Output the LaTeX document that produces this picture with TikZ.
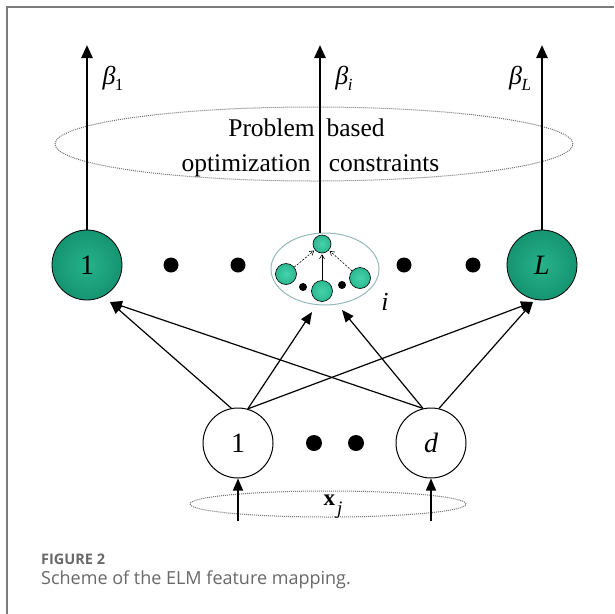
\documentclass[tikz,border=0pt]{standalone}
\usepackage{fontspec}
\setmainfont{Liberation Serif}
\newfontfamily\capfont{Open Sans}
\usetikzlibrary{arrows.meta,calc,shapes.geometric}

\definecolor{frameline}{RGB}{125,125,125}
\definecolor{capgray}{RGB}{105,105,105}
\definecolor{clusterline}{RGB}{150,185,185}
\definecolor{ringgray}{RGB}{115,115,115}
\definecolor{tealA}{RGB}{38,178,138}
\definecolor{tealB}{RGB}{18,142,108}
\definecolor{tealC}{RGB}{4,88,66}
\definecolor{tealD}{RGB}{70,210,170}

% teal sphere look for the hidden neurons
\pgfdeclareradialshading{tealball}{\pgfpoint{0bp}{0bp}}{%
  color(0bp)=(tealA); color(30bp)=(tealB); color(46bp)=(tealC); color(50bp)=(tealC)}
\pgfdeclareradialshading{tealsmall}{\pgfpoint{0bp}{0bp}}{%
  color(0bp)=(tealD); color(30bp)=(tealA); color(46bp)=(tealB); color(50bp)=(tealC)}

\newcommand{\betalabel}[1]{{\itshape β}\kern-0.5pt\raisebox{-6pt}{\fontsize{17}{17}\selectfont #1}}

\begin{document}
\begin{tikzpicture}[x=1pt,y=-1pt,
  bigball/.style={circle, draw=black, line width=0.8pt, minimum size=70pt,
    inner sep=0pt, shading=tealball, font=\fontsize{28}{28}\selectfont},
  smallball/.style={circle, draw=black, line width=0.6pt, minimum size=#1,
    inner sep=0pt, shading=tealsmall},
  inputnode/.style={circle, draw=black, line width=1pt, minimum size=70pt,
    inner sep=0pt, fill=white, font=\fontsize{28}{28}\selectfont},
  dotmark/.style={circle, fill=black, minimum size=#1, inner sep=0pt},
  outarrow/.style={line width=2.6pt, -{Triangle[length=13pt,width=11pt]}},
  inarrow/.style={line width=1.2pt, -{Triangle[length=12pt,width=10pt]}},
  subarrow/.style={line width=0.6pt, -{Straight Barb[length=4pt,width=5pt]}},
  dottedring/.style={ellipse, draw=ringgray, line width=1pt,
    dash pattern=on 1pt off 1pt, inner sep=0pt},
  serif26/.style={font=\fontsize{25.5}{30}\selectfont},
]
\useasboundingbox (0,0) rectangle (614,614);
\fill[white] (0,0) rectangle (614,614);
\draw[frameline, line width=1.1pt] (7,614) -- (7,7) -- (614,7);

% constraint ring around the output weights
\node[dottedring, minimum width=518pt, minimum height=74pt] (cons) at (314,144) {};
\node[serif26, anchor=base] (ctext1) at (306.5,136.5) {Problem\hspace{5.5pt} based};
\node[serif26, anchor=base] (ctext2) at (310.5,171) {optimization\hspace{12pt} constraints};

% hidden layer
\node[bigball] (h1) at (87,265) {1};
\node[bigball] (hL) at (542,265) {\itshape L};
\node[dotmark=15pt] (hd1) at (171,265) {};
\node[dotmark=15pt] (hd2) at (238,265) {};
\node[dotmark=15pt] (hd3) at (404,265) {};
\node[dotmark=15pt] (hd4) at (473,265) {};

% hidden neuron i as a small cluster
\node[ellipse, draw=clusterline, line width=1pt, minimum width=108pt,
  minimum height=72pt, inner sep=0pt] (hi) at (325,269) {};
\node[smallball=18pt] (c0) at (322,244) {};
\node[smallball=21pt] (c1) at (286,274) {};
\node[smallball=21pt] (c2) at (322,291) {};
\node[smallball=21pt] (c3) at (360,278) {};
\node[dotmark=8pt] (cd1) at (303,287) {};
\node[dotmark=8pt] (cd2) at (342,285) {};
\draw[subarrow, dash pattern=on 2pt off 1.5pt, shorten >=1pt] (c1) -- (c0);
\draw[subarrow, shorten >=1pt] (c2) -- (c0);
\draw[subarrow, dash pattern=on 2pt off 1.5pt, shorten >=1pt] (c3) -- (c0);
\node[font=\fontsize{26}{26}\selectfont\itshape] (ilabel) at (385,302) {i};

% output weights
\coordinate (o1) at (87,45);
\coordinate (oi) at (320,45);
\coordinate (oL) at (542,45);
\draw[outarrow] (h1.north) -- (o1);
\draw[outarrow] (hi.north -| oi) -- (oi);
\draw[outarrow] (hL.north) -- (oL);
\node[font=\fontsize{26}{26}\selectfont] (b1) at (113,78) {\betalabel{1}};
\node[font=\fontsize{26}{26}\selectfont] (bi) at (344,78) {\betalabel{\itshape i}};
\node[font=\fontsize{26}{26}\selectfont] (bL) at (520,78) {\betalabel{\itshape L}};

% input layer
\node[inputnode] (in1) at (238,443) {1};
\node[inputnode] (ind) at (431,443) {\itshape d};
\node[dotmark=16pt] (id1) at (314,443) {};
\node[dotmark=16pt] (id2) at (356,443) {};

% arrow tips on the hidden layer
\coordinate (t1) at ($(h1)+(23,37)$);
\coordinate (tL) at ($(hL)+(-9,37)$);
\coordinate (ti1) at ($(hi)+(-13,43)$);
\coordinate (ti2) at ($(hi)+(17,41)$);

\draw[inarrow] (in1.101) -- (t1);
\draw[inarrow] (in1.74) -- (ti1);
\draw[inarrow] (in1.74) -- (tL);
\draw[inarrow] (ind.103) -- (t1);
\draw[inarrow] (ind.103) -- (ti2);
\draw[inarrow] (ind.77) -- (tL);

% input sample x_j
\node[dottedring, minimum width=276pt, minimum height=26pt] (xring) at (328,504) {};
\coordinate (x1) at (238,521);
\coordinate (xd) at (431,521);
\draw[inarrow] (x1) -- (in1.south);
\draw[inarrow] (xd) -- (ind.south);
\node[inner sep=0pt] (xlabel) at (333,507)
  {\fontsize{23}{23}\selectfont\bfseries x\kern2pt\raisebox{-9pt}{\fontsize{19}{19}\selectfont\mdseries\itshape j}};

% caption
\node[anchor=west, inner sep=0pt, text=capgray, font=\capfont\bfseries\fontsize{14.5}{14.5}\selectfont] (figno) at (41,559) {FIGURE 2};
\node[anchor=west, inner sep=0pt, text=capgray, font=\capfont\fontsize{18}{18}\selectfont] (figcap) at (41,580) {Scheme of the ELM feature mapping.};
\end{tikzpicture}
\end{document}
